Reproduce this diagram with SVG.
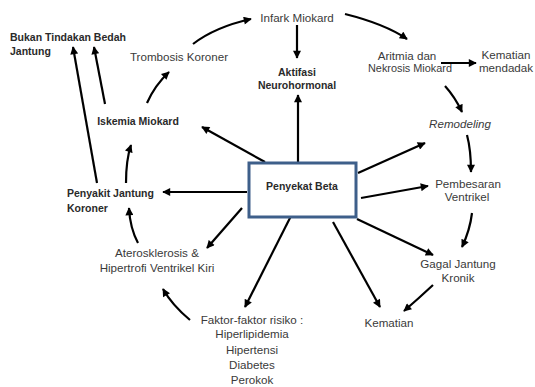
<svg xmlns="http://www.w3.org/2000/svg" width="535" height="387" viewBox="0 0 535 387">
<defs>
<marker id="ah" viewBox="0 0 10 10" refX="9" refY="5" markerWidth="9" markerHeight="8" markerUnits="userSpaceOnUse" orient="auto">
<path d="M0,0 L10,5 L0,10 Z" fill="#000"/>
</marker>
<style>
text{font-family:"Liberation Sans",Arial,sans-serif;font-size:11.6px;fill:#3a3a3a}
.b{font-weight:bold;fill:#2a2a2a;font-size:10.5px}
.i{font-style:italic}
.c{text-anchor:middle}
.ln{fill:none;stroke:#000;stroke-width:2.2;marker-end:url(#ah)}
</style>
</defs>
<rect width="535" height="387" fill="#fff"/>
<g id="connectors">
<path class="ln" d="M193,44 Q215,27 251,19"/>
<path class="ln" d="M345,14 Q385,24 407,39"/>
<path class="ln" d="M297,25 L297,58"/>
<path class="ln" d="M441,63 L476,63"/>
<path class="ln" d="M445,86 Q455,97 462,112"/>
<path class="ln" d="M467,135 Q471,150 471,172"/>
<path class="ln" d="M472,213 Q470,230 462,247"/>
<path class="ln" d="M433,285 Q418,299 404,311"/>
<path class="ln" d="M298,162 L298,95"/>
<path class="ln" d="M265,162 L202,127"/>
<path class="ln" d="M358,173 L425,143"/>
<path class="ln" d="M361,198 L428,186"/>
<path class="ln" d="M357,219 L433,255"/>
<path class="ln" d="M333,222 L380,307"/>
<path class="ln" d="M293,212 L245,307"/>
<path class="ln" d="M247,192 L163,192"/>
<path class="ln" d="M242,208 L207,248"/>
<path class="ln" d="M190,320 Q172,305 163,289"/>
<path class="ln" d="M138,243 Q130,228 129,208"/>
<path class="ln" d="M126,183 Q126,160 131,145"/>
<path class="ln" d="M97,183 L73,47"/>
<path class="ln" d="M105,104 L94,47"/>
<path class="ln" d="M147,103 Q155,85 169,72"/>
</g>
<g id="penyekat">
<rect x="249" y="163" width="107" height="54" fill="#fff" stroke="#3e5f8a" stroke-width="3"/>
<text class="b c" x="302" y="190">Penyekat Beta</text>
</g>
<g id="infark"><text class="c" x="297" y="22">Infark Miokard</text></g>
<g id="aktifasi"><text class="b c" x="297" y="76">Aktifasi</text><text class="b c" x="297" y="89">Neurohormonal</text></g>
<g id="aritmia"><text class="c" x="407" y="60">Aritmia dan</text><text class="c" x="410" y="72" textLength="84" lengthAdjust="spacingAndGlyphs">Nekrosis Miokard</text></g>
<g id="kematian-mendadak"><text class="c" x="506" y="59">Kematian</text><text class="c" x="506" y="72">mendadak</text></g>
<g id="remodeling"><text class="c i" x="460" y="128">Remodeling</text></g>
<g id="pembesaran"><text class="c" x="468" y="188">Pembesaran</text><text class="c" x="467" y="201">Ventrikel</text></g>
<g id="gagal"><text class="c" x="458" y="268">Gagal Jantung</text><text class="c" x="458" y="282">Kronik</text></g>
<g id="kematian"><text class="c" x="389" y="327">Kematian</text></g>
<g id="faktor">
<text class="c" x="252" y="324">Faktor-faktor risiko :</text>
<text class="c" x="252" y="338">Hiperlipidemia</text>
<text class="c" x="252" y="354">Hipertensi</text>
<text class="c" x="252" y="369">Diabetes</text>
<text class="c" x="252" y="384">Perokok</text>
</g>
<g id="aterosklerosis"><text class="c" x="157" y="257">Aterosklerosis &amp;</text><text class="c" x="157" y="272">Hipertrofi Ventrikel Kiri</text></g>
<g id="pjk"><text class="b" x="67" y="197">Penyakit Jantung</text><text class="b" x="67" y="212">Koroner</text></g>
<g id="iskemia"><text class="b c" x="138" y="125">Iskemia Miokard</text></g>
<g id="trombosis"><text class="c" x="179" y="61">Trombosis Koroner</text></g>
<g id="bukan"><text class="b" x="10" y="41">Bukan Tindakan Bedah</text><text class="b" x="10" y="55">Jantung</text></g>
</svg>
